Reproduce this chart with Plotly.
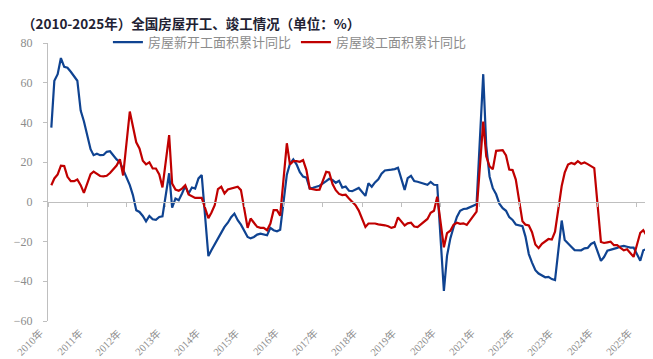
import plotly.graph_objects as go

years = list(range(2010, 2026))
tick_labels = [f"{y}年" for y in years]

# cumulative YoY, monthly Feb..Dec (2025: Feb..Jun)
new_starts = [
    37.4, 61.0, 64.3, 72.4, 68.0, 67.5, 65.5, 63.0, 61.0, 46.0, 40.6,      # 2010
    26.5, 23.5, 24.2, 23.5, 23.6, 25.2, 25.5, 23.5, 21.4, 20.0, 16.2,      # 2011
    8.4, 3.4, -4.2, -5.1, -7.1, -9.8, -7.1, -8.8, -9.0, -7.6, -7.3,        # 2012
    14.4, -2.9, 1.7, 0.8, 4.2, 7.9, 4.2, 7.2, 6.7, 11.8, 13.5,             # 2013
    -27.3, -24.4, -21.6, -18.2, -15.5, -12.6, -10.5, -7.7, -5.9, -9.2, -11.5,  # 2014
    -17.7, -18.4, -17.7, -16.5, -16.0, -16.5, -16.8, -13.1, -14.3, -14.8, -14.0,  # 2015
    13.7, 19.2, 21.4, 18.9, 14.9, 12.7, 12.2, 6.7, 7.1, 7.6, 8.1,          # 2016
    10.4, 11.6, 11.0, 9.6, 10.6, 7.2, 7.7, 5.6, 5.4, 6.1, 7.0,             # 2017
    3.0, 9.4, 7.6, 9.8, 11.4, 14.2, 15.8, 16.2, 16.2, 16.5, 17.2,          # 2018
    6.0, 11.9, 13.1, 10.5, 10.1, 9.5, 8.9, 8.6, 10.0, 8.6, 8.5,            # 2019
    -44.9, -27.2, -18.4, -12.8, -7.6, -4.5, -3.6, -3.4, -2.7, -2.0, -1.2,  # 2020
    64.3, 28.2, 12.8, 6.9, 3.8, -0.9, -3.2, -4.5, -7.7, -9.1, -11.4,       # 2021
    -12.2, -17.5, -26.3, -30.6, -34.4, -36.1, -37.2, -38.0, -37.8, -38.9, -39.4,  # 2022
    -9.4, -19.2, -21.2, -22.6, -24.3, -24.5, -24.4, -23.4, -23.2, -21.2, -20.4,   # 2023
    -29.7, -27.8, -24.6, -24.2, -23.7, -23.2, -22.5, -22.2, -22.6, -23.0, -23.0,  # 2024
    -29.6, -24.4, -23.8, -22.8, -20.0,                                     # 2025
]

completions = [
    8.4, 11.8, 13.8, 18.2, 18.0, 12.6, 10.4, 10.4, 11.3, 8.4, 4.5,         # 2010
    14.0, 15.2, 14.0, 13.0, 12.8, 13.1, 14.5, 16.5, 18.3, 21.5, 13.3,      # 2011
    45.5, 38.7, 30.0, 26.9, 20.7, 18.9, 19.9, 16.8, 16.8, 13.8, 7.3,       # 2012
    33.6, 9.2, 6.2, 5.6, 6.7, 8.4, 3.7, 3.0, 2.0, 2.0, 2.0,                # 2013
    -8.2, -5.5, -1.7, 6.4, 7.6, 4.2, 6.2, 6.7, 7.2, 7.6, 5.9,              # 2014
    -13.1, -8.4, -10.4, -12.6, -13.1, -13.1, -14.3, -10.9, -4.2, -4.2, -6.9,  # 2015
    29.5, 18.9, 20.5, 20.5, 20.2, 21.0, 16.0, 6.7, 6.2, 6.0, 6.1,          # 2016
    15.1, 14.8, 9.0, 5.9, 4.0, 3.4, 3.6, 1.7, 0.0, -1.7, -4.4,             # 2017
    -12.6, -10.9, -10.9, -10.9, -11.3, -11.4, -11.8, -12.3, -13.1, -12.6, -7.8,  # 2018
    -11.9, -10.8, -10.5, -12.4, -12.7, -11.3, -10.0, -8.6, -5.5, -4.5, 2.6,      # 2019
    -22.9, -15.8, -14.5, -11.5, -10.5, -11.1, -10.8, -11.6, -9.2, -7.3, -4.9,    # 2020
    40.4, 22.9, 17.9, 16.4, 25.7, 25.7, 26.0, 23.4, 16.3, 16.0, 11.2,      # 2021
    -9.8, -11.5, -11.9, -15.3, -21.5, -23.3, -21.1, -19.9, -18.7, -19.0, -15.0,  # 2022
    8.0, 14.7, 18.8, 19.6, 19.0, 20.5, 19.2, 19.8, 19.0, 17.9, 17.0,       # 2023
    -20.2, -20.7, -20.4, -20.1, -21.8, -21.8, -23.2, -24.4, -23.9, -26.0, -27.7,  # 2024
    -15.6, -14.3, -16.9, -17.3, -14.8,                                     # 2025
]

series_names = ["房屋新开工面积累计同比", "房屋竣工面积累计同比"]
title_text = "（2010-2025年）全国房屋开工、竣工情况（单位：%）"

# month labels (Jan-Feb reported together, so each year starts in Feb)
dates = []
for y in years:
    last_m = 6 if y == 2025 else 12
    for m in range(2, last_m + 1):
        dates.append(f"{y}-{m:02d}-01")

tick_vals = [f"{y}-01-01" for y in years]
x_range = ["2010-01-01", "2025-06-18"]
y_min, y_max = -60, 80

BLUE = "#0F4391"
RED = "#C00000"
GRAY = "#8c8c8c"
AXIS = "#bfbfbf"
SERIF = "Liberation Serif, Noto Sans CJK SC, serif"
CJK = "Noto Sans CJK SC, sans-serif"

fig = go.Figure()
fig.add_trace(go.Scatter(x=dates, y=new_starts, mode="lines", name=series_names[0],
                         line=dict(color=BLUE, width=2.2)))
fig.add_trace(go.Scatter(x=dates, y=completions, mode="lines", name=series_names[1],
                         line=dict(color=RED, width=2.2)))

# year labels along the bottom edge, rotated, ending at each tick
annotations = []
for tv, lab in zip(tick_vals, tick_labels):
    annotations.append(dict(text=lab, x=tv, xref="x", y=0, yref="paper",
                            xanchor="right", yanchor="top", textangle=-45,
                            xshift=-1, yshift=-4, showarrow=False, borderpad=0,
                            font=dict(family=SERIF, size=10.5, color=GRAY)))
annotations.append(dict(text=f"<b>{title_text}</b>", xref="paper", yref="paper",
                        x=-29 / 618, y=1 + 20 / 278, xanchor="left", yanchor="middle",
                        showarrow=False, font=dict(family=CJK, size=13.5, color="#222233")))

fig.update_layout(
    width=653, height=359,
    margin=dict(l=29, r=6, t=35, b=46),
    paper_bgcolor="white", plot_bgcolor="white",
    showlegend=True,
    legend=dict(orientation="h", x=0.0987, xanchor="left", y=1.003, yanchor="middle",
                font=dict(family=CJK, size=13, color=GRAY), bgcolor="rgba(0,0,0,0)",
                itemwidth=30, tracegroupgap=0),
    xaxis=dict(type="date", range=x_range, tickmode="array", tickvals=tick_vals,
               showticklabels=False, anchor="free", position=(0 - y_min) / (y_max - y_min),
               showline=True, linecolor=AXIS, linewidth=1.3,
               ticks="outside", ticklen=4, tickcolor=AXIS, tickwidth=1,
               showgrid=False, zeroline=False),
    yaxis=dict(range=[y_min, y_max], dtick=20, tick0=0, showgrid=False,
               zeroline=False,
               showline=True, linecolor=AXIS, linewidth=1,
               ticks="outside", ticklen=4, tickcolor=AXIS, ticklabelstandoff=8,
               tickfont=dict(family=SERIF, size=12, color=GRAY)),
    annotations=annotations,
)

fig.write_html("out.html")
